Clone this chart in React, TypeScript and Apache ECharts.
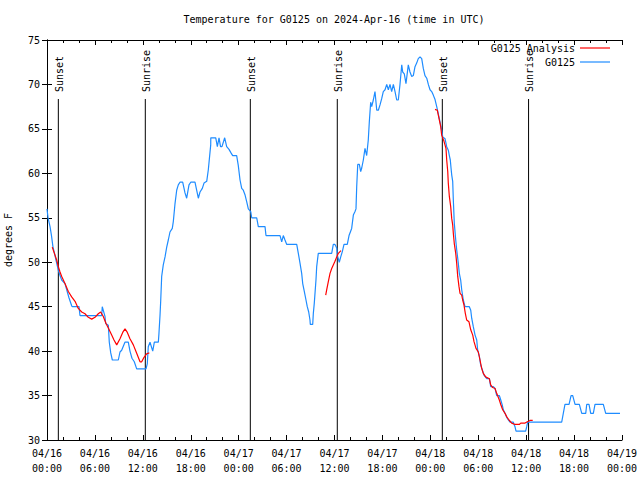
import React, { useEffect, useRef } from "react";
import * as echarts from "echarts";

const BASE_MS = Date.UTC(2024, 3, 16);
const FONT = '"DejaVu Sans Mono", "Liberation Mono", monospace';

// G0125 observations: hours since 2024-04-16 00:00 UTC, degrees F
const blueHours = [
  0, 0.13, 0.38, 0.56, 0.75, 0.94, 1.13, 1.42, 1.63, 1.84, 2.25, 2.47, 2.75, 3.09, 3.17, 4.01, 4.13, 6.85, 6.92,
  7.26, 7.35, 7.68, 7.8, 7.98, 8.18, 8.93, 9.14, 9.35, 9.76, 10.18, 10.39, 10.64, 10.93, 11.23, 12.4, 12.56, 12.68,
  12.9, 13.24, 13.44, 13.94, 14.02, 14.15, 14.24, 14.36, 14.56, 14.78, 14.99, 15.19, 15.4, 15.69, 15.82, 16.03,
  16.24, 16.44, 16.65, 16.99, 17.28, 17.49, 17.78, 18.0, 18.53, 18.74, 18.95, 19.16, 19.45, 19.66, 20.0, 20.2,
  20.5, 20.51, 21.13, 21.33, 21.54, 21.73, 21.91, 22.25, 22.5, 22.79, 23.04, 23.25, 23.75, 23.95, 24.17, 24.38,
  24.58, 24.79, 25.01, 25.21, 25.51, 25.63, 26.26, 26.46, 27.3, 27.42, 29.18, 29.39, 29.59, 29.8, 30.02, 31.27,
  31.47, 31.68, 31.89, 32.02, 32.18, 32.43, 32.59, 32.77, 32.93, 32.97, 33.27, 33.35, 33.47, 33.68, 33.77, 33.97,
  35.65, 35.85, 36.06, 36.28, 36.35, 36.6, 36.78, 36.98, 37.19, 37.6, 37.82, 38.15, 38.36, 38.57, 38.69, 38.78,
  38.91, 39.11, 39.28, 39.41, 39.61, 39.82, 40.03, 40.23, 40.36, 40.53, 40.66, 40.86, 41.07, 41.29, 41.49, 41.7,
  41.91, 42.11, 42.33, 42.54, 42.74, 42.95, 43.16, 43.37, 43.58, 43.79, 43.99, 44.2, 44.42, 44.54, 44.74, 44.95,
  45.24, 45.45, 45.67, 45.87, 46.08, 46.29, 46.49, 46.71, 46.92, 47.12, 47.33, 47.55, 47.75, 47.96, 48.17, 48.37,
  48.59, 48.8, 49.0, 49.21, 49.42, 49.55, 49.84, 50.05, 50.25, 50.38, 50.5, 50.59, 50.68, 50.8, 50.88, 51.0,
  51.18, 51.3, 51.5, 51.63, 51.8, 51.93, 52.13, 52.34, 52.88, 53.06, 53.18, 53.38, 53.6, 53.81, 53.93, 54.14,
  54.31, 54.51, 54.72, 55.06, 55.39, 55.56, 55.89, 56.1, 56.31, 56.64, 56.82, 57.02, 57.14, 57.35, 57.57, 57.77,
  57.98, 58.39, 58.6, 58.73, 59.94, 60.07, 60.19, 64.45, 64.65, 64.86, 65.37, 65.62, 65.83, 66.12, 66.66, 66.96,
  67.46, 67.58, 67.87, 68.08, 68.41, 68.62, 69.66, 69.96, 71.75,
];
const blueTemps = [
  56, 55, 54, 53, 51.7, 51, 50.2, 49.1, 48.5, 48, 47.6, 46.9, 46, 45.1, 45, 45, 44, 44, 45,
  43.9, 43.1, 42.9, 41, 39.8, 39, 39, 39.9, 40.1, 41, 41, 40, 39.2, 38.8, 38, 38, 38.6, 40.5,
  41, 40, 41, 41, 42, 44, 45.7, 48.4, 49.7, 50.6, 51.7, 52.5, 53.4, 53.8, 54.6, 56.6,
  58.1, 58.7, 59, 59, 57.8, 57.2, 58.7, 59, 59, 58.1, 57.2, 57.9, 58.3, 58.9, 59.1, 60.4,
  63.2, 64, 64, 63, 64, 63, 63, 64, 63, 62.7, 62.3, 62, 62, 60.9, 59.25, 58.3,
  58.1, 57.6, 56.8, 56, 55.7, 55, 55, 54, 54, 53, 53, 52.3, 53, 52.5, 52, 52,
  51, 49.9, 48.75, 47.6, 46.9, 45.75, 45, 44.4, 43.5, 43, 43, 44.25, 45.4, 48, 49.5, 51,
  51, 52, 52, 51.6, 50.8, 50, 50.6, 51.2, 52, 52, 53, 53.8, 55.3, 55.7, 56, 58.5,
  61, 61, 60.2, 60.6, 61.5, 62.8, 62, 63.75, 65.8, 68, 67.5, 68.25, 69.2, 67.1, 67.1, 67.7,
  68.4, 69.2, 69.4, 70, 69.4, 70, 69.2, 70, 69.2, 68.25, 68.25, 70, 72.2, 71.4, 71.2, 70.1,
  72.2, 71.4, 70.9, 71, 72, 72.4, 72.9, 73.1, 72.9, 71.8, 71, 70.7, 70, 69.4, 69.2, 68.8,
  68.3, 67.5, 66.7, 65.8, 64.9, 64.1, 63.9, 63, 62.6, 62, 61.5, 60.6, 59.8, 59.1, 57, 54.4,
  52.5, 51.4, 49.9, 48.75, 48, 46.9, 45.75, 45, 45, 44.6, 43.7, 42.75, 41.8, 41.25, 40.1, 39.4,
  38.4, 37.9, 37.3, 36.9, 36.9, 36, 36, 35.8, 35, 35, 34.5, 33.9, 33.4, 33, 32.55, 32.25,
  32, 32, 31.5, 31, 31, 31.5, 32, 32, 33, 34, 34, 35, 35, 34, 34, 33,
  33, 34, 34, 33, 33, 34, 34, 33, 33,
];

// G0125 Analysis: three separate segments [hours, degrees F]
const analysisSeg1: [number, number][] = [
  [0.66, 51.7], [1.21, 50.25], [1.42, 49.5], [1.63, 48.9], [1.84, 48.4], [2.25, 47.6], [2.67, 46.7], [3.09, 46.1],
  [3.51, 45.6], [3.92, 44.8], [4.35, 44.4], [4.76, 44.2], [5.17, 43.8], [5.6, 43.6], [6.01, 43.8], [6.42, 44.2],
  [6.72, 44.4], [7.05, 43.9], [7.39, 43.1], [7.68, 42.6], [8.1, 41.8], [8.39, 41.25], [8.73, 40.7], [9.14, 41.4],
  [9.48, 42.1], [9.77, 42.5], [10.06, 42.1], [10.39, 41.4], [10.81, 40.7], [11.23, 39.75], [11.65, 38.8],
  [11.86, 38.8], [12.15, 39.3], [12.48, 39.7], [12.81, 39.8],
];
const analysisSeg2: [number, number][] = [
  [34.9, 46.3], [35.02, 46.9], [35.22, 47.8], [35.44, 48.75], [35.65, 49.3], [35.85, 49.7], [36.06, 50.1],
  [36.28, 50.6], [36.48, 51.0], [36.81, 51.3],
];
const analysisSeg3: [number, number][] = [
  [48.59, 67.2], [48.87, 67.1], [49.3, 65.25], [49.42, 64.3], [49.71, 63.6], [49.96, 62.8], [50.05, 61.5],
  [50.18, 60.2], [50.25, 58.9], [50.38, 57.4], [50.55, 56.25], [50.68, 54.9], [50.8, 54.2], [50.88, 53.25],
  [51.0, 52.1], [51.18, 51.0], [51.3, 49.9], [51.43, 48.4], [51.59, 47.25], [51.72, 46.5], [51.93, 46.3],
  [52.05, 45.75], [52.21, 45.2], [52.38, 44.25], [52.55, 43.5], [52.84, 43.3], [53.06, 42.4], [53.31, 41.8],
  [53.47, 41.06], [53.72, 40.3], [54.01, 39.9], [54.22, 39.0], [54.43, 38.06], [54.63, 37.5], [54.93, 37.1],
  [55.39, 36.9], [55.56, 36.2], [55.81, 35.9], [56.1, 35.8], [56.31, 35.25], [56.64, 34.5], [56.85, 33.9],
  [57.06, 33.4], [57.35, 33.0], [57.57, 32.6], [57.85, 32.25], [58.19, 31.9], [58.6, 31.75], [59.14, 31.75],
  [59.32, 31.9], [59.86, 31.9], [60.15, 32.06], [60.48, 32.2], [60.82, 32.2],
];

const sunHours = [1.42, 12.31, 25.46, 36.35, 49.5, 60.3];
const sunLabels = ["Sunset", "Sunrise", "Sunset", "Sunrise", "Sunset", "Sunrise"];

const xMin = 0;
const xMax = 72;
const xStep = 6;
const yMin = 30;
const yMax = 75;
const yStep = 5;

const pad2 = (n: number) => (n < 10 ? "0" + n : "" + n);
const fmtHour = (h: number) => {
  const d = new Date(BASE_MS + h * 3600 * 1000);
  return `${pad2(d.getUTCMonth() + 1)}/${pad2(d.getUTCDate())}\n${pad2(d.getUTCHours())}:${pad2(d.getUTCMinutes())}`;
};

export default function App() {
  const ref = useRef<HTMLDivElement>(null);
  useEffect(() => {
    if (!ref.current) return;
    const chart = echarts.init(ref.current, undefined, { renderer: "svg" });
    const blueData = blueHours.map((h, i) => [h, blueTemps[i]]);
    const redData: any[] = [
      ...analysisSeg1,
      [13.5, "-"],
      ...analysisSeg2,
      [40, "-"],
      ...analysisSeg3,
    ];
    const txt = { fontFamily: FONT, fontSize: 10, color: "#000" };
    const tickCommon = {
      show: true,
      inside: true,
      length: 5,
      lineStyle: { color: "#000", width: 1 },
    };
    const minorCommon = {
      show: true,
      splitNumber: 3,
      length: 3,
      lineStyle: { color: "#000", width: 1 },
    };
    const option: any = {
      animation: false,
      backgroundColor: "#fff",
      title: {
        text: "Temperature for G0125 on 2024-Apr-16 (time in UTC)",
        left: 334,
        top: 14,
        textAlign: "center",
        padding: 0,
        textStyle: { ...txt, fontWeight: "normal" },
      },
      legend: [
        {
          data: ["G0125 Analysis"],
          right: 30,
          top: 43,
          padding: 0,
          align: "right",
          icon: "rect",
          itemWidth: 30,
          itemHeight: 1.2,
          textStyle: txt,
        },
        {
          data: ["G0125"],
          right: 30,
          top: 57,
          padding: 0,
          align: "right",
          icon: "rect",
          itemWidth: 30,
          itemHeight: 1.2,
          textStyle: txt,
        },
      ],
      grid: {
        left: 47,
        right: 18,
        top: 40,
        bottom: 40,
        containLabel: false,
        outerBoundsMode: "none",
      },
      xAxis: [
        {
          type: "value",
          min: xMin,
          max: xMax,
          interval: xStep,
          position: "bottom",
          axisLine: { show: true, lineStyle: { color: "#000", width: 1 } },
          axisTick: tickCommon,
          minorTick: minorCommon,
          splitLine: { show: false },
          axisLabel: {
            ...txt,
            margin: 6,
            lineHeight: 15,
            showMinLabel: true,
            showMaxLabel: true,
            hideOverlap: false,
            formatter: (v: number) => fmtHour(v),
          },
        },
        {
          type: "value",
          min: xMin,
          max: xMax,
          interval: xStep,
          position: "top",
          axisLine: { show: true, lineStyle: { color: "#000", width: 1 } },
          axisTick: tickCommon,
          minorTick: minorCommon,
          splitLine: { show: false },
          axisLabel: { show: false },
        },
      ],
      yAxis: [
        {
          type: "value",
          min: yMin,
          max: yMax,
          interval: yStep,
          position: "left",
          name: "degrees F",
          nameLocation: "middle",
          nameGap: 34,
          nameTextStyle: txt,
          axisLine: { show: true, lineStyle: { color: "#000", width: 1 } },
          axisTick: tickCommon,
          splitLine: { show: false },
          axisLabel: { ...txt, margin: 7 },
        },
        {
          type: "value",
          min: yMin,
          max: yMax,
          interval: yStep,
          position: "right",
          axisLine: { show: true, lineStyle: { color: "#000", width: 1 } },
          axisTick: tickCommon,
          splitLine: { show: false },
          axisLabel: { show: false },
        },
      ],
      series: [
        {
          name: "sun",
          type: "custom",
          xAxisIndex: 0,
          yAxisIndex: 0,
          silent: true,
          data: sunHours.map((h) => [h, yMin]),
          renderItem: (params: any, api: any) => {
            const t = api.value(0);
            const bottom = api.coord([t, yMin]);
            const top = api.coord([t, yMax]);
            const lineTop = top[1] + 59;
            return {
              type: "group",
              children: [
                {
                  type: "line",
                  shape: { x1: bottom[0], y1: lineTop, x2: bottom[0], y2: bottom[1] },
                  style: { stroke: "#000", lineWidth: 1 },
                },
                {
                  type: "text",
                  x: bottom[0] + 1,
                  y: lineTop - 7,
                  rotation: Math.PI / 2,
                  style: {
                    text: sunLabels[params.dataIndex],
                    align: "left",
                    verticalAlign: "middle",
                    font: `10px ${FONT}`,
                    fill: "#000",
                  },
                },
              ],
            };
          },
        },
        {
          name: "G0125 Analysis",
          type: "line",
          data: redData,
          connectNulls: false,
          showSymbol: false,
          symbol: "none",
          lineStyle: { color: "#ff0000", width: 1.2 },
          itemStyle: { color: "#ff0000" },
          z: 3,
        },
        {
          name: "G0125",
          type: "line",
          data: blueData,
          showSymbol: false,
          symbol: "none",
          lineStyle: { color: "#1e8cff", width: 1.2 },
          itemStyle: { color: "#1e8cff" },
          z: 2,
        },
      ],
    };
    chart.setOption(option);
    return () => chart.dispose();
  }, []);
  return <div ref={ref} style={{ width: 640, height: 480, position: "absolute", left: 0, top: 0 }} />;
}
